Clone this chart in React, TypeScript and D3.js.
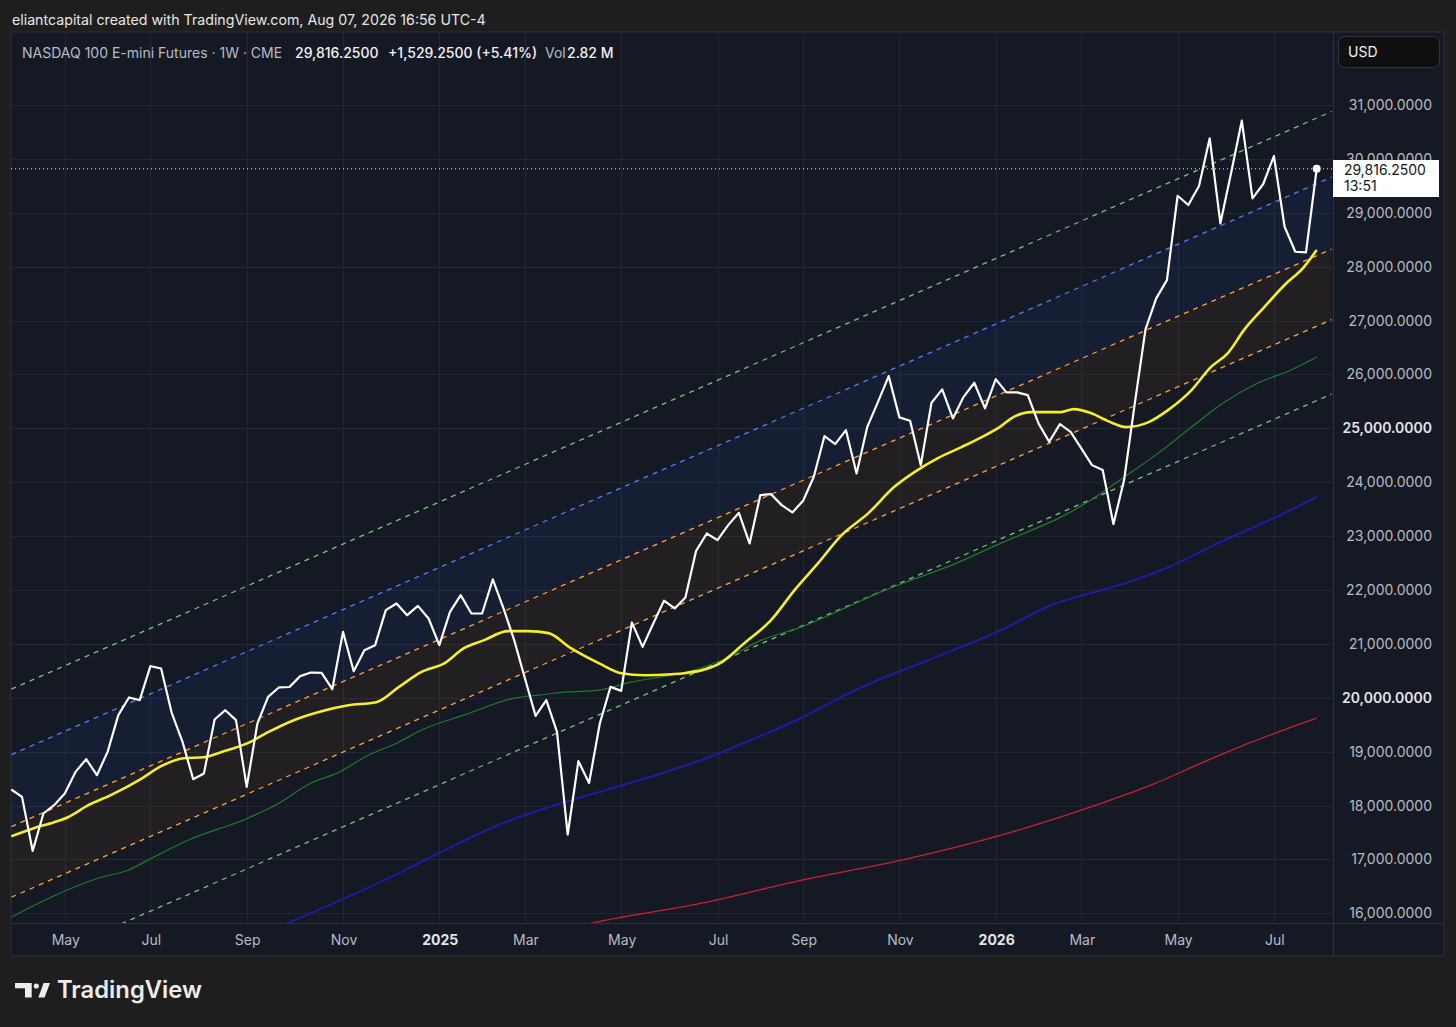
import React from 'react';
import * as d3 from 'd3';

const W = 1456;
const H = 1027;

// ---------- DATA ----------
const startDate = '2024-04-01'; // first weekly bar shown
const closes = [
  18297, 18160, 17157, 17852, 18006, 18223, 18624, 18860, 18563, 18995,
  19677, 20005, 19955, 20586, 20543, 19714, 19181, 18489, 18594, 19597,
  19769, 19584, 18346, 19522, 20016, 20191, 20200, 20401, 20469, 20462,
  20159, 21223, 20493, 20883, 20976, 21626, 21750, 21533, 21705, 21471,
  20976, 21594, 21904, 21564, 21564, 22195, 21657, 21069, 20363, 19664,
  19955, 19367, 17462, 18823, 18420, 19522, 20202, 20128, 21397, 20944,
  21379, 21802, 21657, 21861, 22726, 23049, 22925, 23204, 23432, 22864,
  23760, 23779, 23575, 23439, 23655, 24100, 24856, 24707, 24967, 24163,
  25028, 25492, 25969, 25203, 25140, 24317, 25474, 25722, 25184, 25585,
  25845, 25370, 25914, 25667, 25667, 25617, 25091, 24750, 25078, 24935,
  24627, 24317, 24225, 23222, 24039, 25463, 26836, 27412, 27751, 29316,
  29144, 29496, 30382, 28804, 29738, 30709, 29268, 29534, 30053, 28741,
  28277, 28266, 29816.25,
];

// yellow moving average (week index, value)
const maWeeks = [0, 2.1, 4, 5.3, 7.2, 9.3, 12.1, 14, 16.1, 18, 19.6, 22.1, 24, 26.4, 29, 31.5, 34.1, 36.2, 38.3, 40.5, 42.3, 44.2, 46.4, 48.3, 50.2, 52.3, 54.9, 57, 59.2, 61.7, 62.9, 66.1, 68.5, 71, 73.2, 75.4, 77.6, 80.1, 82.5, 84.4, 86.6, 88.8, 90.7, 92.5, 93.5, 95.3, 98.1, 99.3, 100.9, 102.5, 104.2, 106.3, 108.1, 110.3, 112.1, 113.7, 115.2, 117.1, 119, 120.8, 122];
const maValues = [17430, 17579, 17690, 17783, 18006, 18192, 18489, 18730, 18878, 18897, 18990, 19157, 19361, 19584, 19751, 19862, 19918, 20196, 20475, 20642, 20920, 21069, 21236, 21236, 21199, 20920, 20642, 20456, 20419, 20437, 20456, 20623, 21013, 21440, 21997, 22498, 23018, 23426, 23909, 24187, 24447, 24651, 24837, 25041, 25190, 25301, 25301, 25357, 25283, 25134, 25023, 25116, 25338, 25710, 26136, 26396, 26823, 27250, 27659, 27993, 28308];

// dark green average
const greenWeeks = [0, 3.7, 8.4, 10.9, 13.1, 16.5, 22.1, 25, 27.8, 30.8, 33, 36.2, 38.3, 42.3, 47, 49.3, 51.7, 54.9, 57.9, 61.7, 63.8, 67, 70.1, 73.8, 77.9, 81, 84.1, 87.9, 92.5, 94.7, 97.9, 100.9, 104, 107.2, 110.3, 113.4, 116.5, 119.6, 122];
const greenValues = [15927, 16298, 16669, 16799, 17022, 17356, 17765, 18043, 18396, 18637, 18897, 19175, 19398, 19677, 19992, 20048, 20104, 20141, 20289, 20419, 20512, 20753, 21069, 21310, 21663, 21941, 22183, 22461, 22869, 23055, 23333, 23668, 24094, 24540, 25023, 25487, 25840, 26081, 26322];

// navy average
const navyWeeks = [22, 31.8, 36.4, 40.5, 45.5, 50.2, 54.9, 61.7, 64.5, 68.2, 73.8, 78.5, 81, 85.7, 92.5, 97.2, 101.9, 104.7, 107.5, 113.4, 118, 122];
const navyValues = [15500, 16335, 16762, 17171, 17635, 17969, 18247, 18656, 18841, 19138, 19621, 20104, 20326, 20698, 21254, 21719, 21997, 22164, 22368, 22925, 23333, 23723];

// red average
const redWeeks = [49.5, 54.2, 64.5, 73.8, 83.2, 92.5, 101.9, 106.5, 111.2, 115.9, 122];
const redValues = [15592, 15815, 16187, 16613, 16985, 17449, 18043, 18377, 18786, 19175, 19621];

// regression channel (values at week 0 and week 123.4)
const channelWeeks = [0, 123.4];
const channelUpperOuter = [20159, 30879];
const channelUpperMid = [18943, 29663];
const channelUpperInner = [17607, 28327];
const channelLowerInner = [16298, 27018];
const channelLowerOuter = [14911, 25635];

const priceTicks = [16000, 17000, 18000, 19000, 20000, 21000, 22000, 23000, 24000, 25000, 26000, 27000, 28000, 29000, 30000, 31000];
const boldPriceTicks = [20000, 25000];
const timeTickDates = ['2024-05-06', '2024-07-01', '2024-09-02', '2024-11-04', '2025-01-06', '2025-03-03', '2025-05-05', '2025-07-07', '2025-09-01', '2025-11-03', '2026-01-05', '2026-03-02', '2026-05-04', '2026-07-06'];
const timeTickLabels = ['May', 'Jul', 'Sep', 'Nov', '2025', 'Mar', 'May', 'Jul', 'Sep', 'Nov', '2026', 'Mar', 'May', 'Jul'];
const lastPrice = 29816.25;

// ---------- LAYOUT ----------
const panel = { x: 11, y: 32, r: 1444, b: 956 };
const plot = { l: 11, t: 32, r: 1333, b: 923 };
const FONT = 'Inter, "Noto Sans", Roboto, sans-serif';

export default function App() {
  const x = d3.scaleLinear().domain([0, 122]).range([11.3, 1316.7]);
  const y = d3.scaleLinear().domain([16000, 31000]).range([913.3, 105]);
  const parse = d3.utcParse('%Y-%m-%d');
  const t0 = parse(startDate) as Date;
  const weekOf = (s: string) => d3.utcDay.count(t0, parse(s) as Date) / 7;

  type P = [number, number];
  const line = d3.line<P>().x((d) => x(d[0])).y((d) => y(d[1]));
  const smooth = d3.line<P>().x((d) => x(d[0])).y((d) => y(d[1])).curve(d3.curveMonotoneX);

  const closePts: P[] = closes.map((v, i) => [i, v]);
  const maPts: P[] = maWeeks.map((w, i) => [w, maValues[i]]);
  const greenPts: P[] = greenWeeks.map((w, i) => [w, greenValues[i]]);
  const navyPts: P[] = navyWeeks.map((w, i) => [w, navyValues[i]]);
  const redPts: P[] = redWeeks.map((w, i) => [w, redValues[i]]);
  const ch = (vals: number[]): P[] => channelWeeks.map((w, i) => [w, vals[i]]);

  const area = d3
    .area<[number, number, number]>()
    .x((d) => x(d[0]))
    .y0((d) => y(d[1]))
    .y1((d) => y(d[2]));
  const band = (a: number[], b: number[]) =>
    area(channelWeeks.map((w, i) => [w, a[i], b[i]] as [number, number, number])) || '';

  const fmt = d3.format(',.4f');
  const lastY = y(lastPrice);
  const lastX = x(closes.length - 1);

  return (
    <svg width={W} height={H} style={{ position: 'absolute', left: 0, top: 0, background: '#1e1e1e' }} fontFamily={FONT}>
      <rect x={0} y={0} width={W} height={H} fill="#1e1e1e" />
      <text x={12} y={25} fontSize={14.2} fill="#e6e6e6">
        eliantcapital created with TradingView.com, Aug 07, 2026 16:56 UTC-4
      </text>

      {/* chart panel */}
      <rect x={panel.x} y={panel.y} width={panel.r - panel.x} height={panel.b - panel.y} fill="#151924" stroke="#2a2e39" />
      <defs>
        <clipPath id="plotClip">
          <rect x={plot.l} y={plot.t} width={plot.r - plot.l} height={plot.b - plot.t} />
        </clipPath>
      </defs>

      {/* grid */}
      <g stroke="#222735" strokeWidth={1}>
        {priceTicks.map((p) => (
          <line key={p} x1={plot.l} x2={plot.r} y1={Math.round(y(p)) + 0.5} y2={Math.round(y(p)) + 0.5} />
        ))}
        {timeTickDates.map((d) => (
          <line key={d} x1={Math.round(x(weekOf(d))) + 0.5} x2={Math.round(x(weekOf(d))) + 0.5} y1={plot.t} y2={plot.b} />
        ))}
      </g>

      <g clipPath="url(#plotClip)">
        {/* channel fills */}
        <path d={band(channelUpperMid, channelUpperInner)} fill="rgba(41,98,255,0.075)" />
        <path d={band(channelUpperInner, channelLowerInner)} fill="rgba(255,152,0,0.055)" />

        {/* channel lines */}
        <g fill="none" strokeWidth={1.3} strokeDasharray="5 5">
          <path d={line(ch(channelUpperOuter)) || ''} stroke="#72c476" />
          <path d={line(ch(channelUpperMid)) || ''} stroke="#4d7ff0" />
          <path d={line(ch(channelUpperInner)) || ''} stroke="#ffa033" />
          <path d={line(ch(channelLowerInner)) || ''} stroke="#ffa033" />
          <path d={line(ch(channelLowerOuter)) || ''} stroke="#72c476" />
        </g>

        {/* averages */}
        <path d={smooth(redPts) || ''} fill="none" stroke="#c4232f" strokeWidth={1.3} />
        <path d={smooth(navyPts) || ''} fill="none" stroke="#1c1cb0" strokeWidth={1.8} />
        <path d={smooth(greenPts) || ''} fill="none" stroke="#1f7a2a" strokeWidth={1.2} />
        <path d={smooth(maPts) || ''} fill="none" stroke="#f5ee2a" strokeWidth={2.6} />

        {/* price line */}
        <line x1={plot.l} x2={plot.r} y1={lastY} y2={lastY} stroke="#e8e8e8" strokeWidth={1.1} strokeDasharray="1 3" />
        <path d={line(closePts) || ''} fill="none" stroke="#ffffff" strokeWidth={2.2} strokeLinejoin="round" />
        <circle cx={lastX} cy={lastY} r={4} fill="#ffffff" />
      </g>

      {/* separators */}
      <line x1={plot.r + 0.5} x2={plot.r + 0.5} y1={panel.y} y2={panel.b} stroke="#2c303c" />
      <line x1={panel.x} x2={panel.r} y1={plot.b + 0.5} y2={plot.b + 0.5} stroke="#2c303c" />

      {/* legend */}
      <g fontSize={14}>
        <text x={22} y={58} fill="#b8bbc4">NASDAQ 100 E-mini Futures · 1W · CME</text>
        <text x={295} y={58} fill="#f2f2f2" fontWeight={500}>29,816.2500</text>
        <text x={388} y={58} fill="#f2f2f2" fontWeight={500}>+1,529.2500 (+5.41%)</text>
        <text x={545} y={58} fill="#b8bbc4">Vol</text>
        <text x={567} y={58} fill="#f2f2f2" fontWeight={500}>2.82 M</text>
      </g>

      {/* price axis */}
      <rect x={1338.5} y={36.5} width={101} height={31} rx={6} fill="#101010" stroke="#30343f" />
      <text x={1348} y={57} fontSize={14} fill="#f0f0f0">USD</text>
      <g fontSize={14} textAnchor="end">
        {priceTicks.map((p) => (
          <text
            key={p}
            x={1432}
            y={y(p) + 5}
            fill={boldPriceTicks.includes(p) ? '#e4e6ea' : '#b8bbc4'}
            fontWeight={boldPriceTicks.includes(p) ? 600 : 400}
          >
            {fmt(p)}
          </text>
        ))}
      </g>
      <rect x={1333} y={160} width={106} height={37} fill="#ffffff" />
      <text x={1344} y={175} fontSize={14} fill="#131722">29,816.2500</text>
      <text x={1344} y={191} fontSize={14} fill="#131722">13:51</text>

      {/* time axis */}
      <g fontSize={14} textAnchor="middle">
        {timeTickDates.map((d, i) => {
          const isYear = /^\d{4}$/.test(timeTickLabels[i]);
          return (
            <text
              key={d}
              x={x(weekOf(d)) + 1}
              y={945}
              fill={isYear ? '#e4e6ea' : '#b8bbc4'}
              fontWeight={isYear ? 700 : 400}
            >
              {timeTickLabels[i]}
            </text>
          );
        })}
      </g>

      {/* TradingView logo */}
      <g fill="#ececec">
        <path d="M15 983 H31.7 V997.5 H25 V988.3 H15 Z" />
        <circle cx={36.3} cy={986} r={2.6} />
        <path d="M43.6 983 H50 L44.6 997.5 H38.3 Z" />
        <text x={57} y={997.5} fontSize={24} fontWeight={600} textLength={145} lengthAdjust="spacingAndGlyphs">
          TradingView
        </text>
      </g>
    </svg>
  );
}
